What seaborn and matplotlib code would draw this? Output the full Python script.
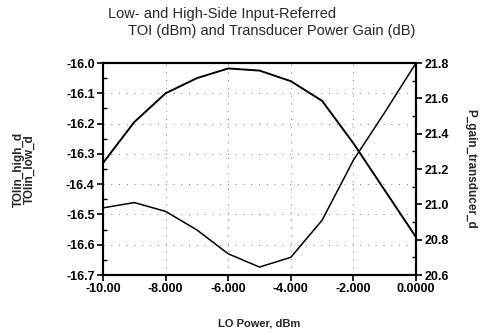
import matplotlib
matplotlib.use("Agg")
import matplotlib.pyplot as plt
import seaborn as sns
import pandas as pd
from matplotlib.ticker import MultipleLocator, FixedLocator

# ---- data ----
lo_power = [-10, -9, -8, -7, -6, -5, -4, -3, -2, -1, 0]
toi_in = [-16.33, -16.195, -16.10, -16.05, -16.018, -16.025, -16.06, -16.125, -16.265, -16.42, -16.575]
p_gain = [20.98, 21.01, 20.96, 20.855, 20.72, 20.645, 20.70, 20.91, 21.25, 21.52, 21.80]

x_ticks = [-10, -8, -6, -4, -2, 0]
x_tick_labels = ["-10.00", "-8.000", "-6.000", "-4.000", "-2.000", "0.0000"]
left_ticks = [-16.0, -16.1, -16.2, -16.3, -16.4, -16.5, -16.6, -16.7]
right_ticks = [21.8, 21.6, 21.4, 21.2, 21.0, 20.8, 20.6]

title_1 = "Low- and High-Side Input-Referred"
title_2 = "TOI (dBm) and Transducer Power Gain (dB)"
x_label = "LO Power, dBm"
left_label = "TOIin_high_d\nTOIin_low_d"
right_label = "P_gain_transducer_d"

sns.set_theme(style="white")
plt.rcParams['font.family'] = ['Liberation Sans', 'DejaVu Sans']

df_toi = pd.DataFrame({"lo": lo_power, "toi": toi_in})
df_gain = pd.DataFrame({"lo": lo_power, "gain": p_gain})

fig = plt.figure(figsize=(4.85, 3.35), dpi=100)
ax = fig.add_axes([103 / 485, 1 - 275 / 335, 313 / 485, 212 / 335])
ax2 = ax.twinx()

sns.lineplot(data=df_toi, x="lo", y="toi", ax=ax, color="black", linewidth=1.4)
sns.lineplot(data=df_gain, x="lo", y="gain", ax=ax2, color="black", linewidth=1.1)

ax.set_xlim(-10, 0)
ax.set_ylim(-16.7, -16.0)
ax2.set_ylim(20.6, 21.8)

ax.xaxis.set_major_locator(FixedLocator(x_ticks))
ax.set_xticklabels(x_tick_labels)
ax.xaxis.set_minor_locator(MultipleLocator(1))
ax.yaxis.set_major_locator(FixedLocator(left_ticks))
ax.set_yticklabels([f"{v:.1f}" for v in left_ticks])
ax.yaxis.set_minor_locator(MultipleLocator(0.05))
ax2.yaxis.set_major_locator(FixedLocator(right_ticks))
ax2.set_yticklabels([f"{v:.1f}" for v in right_ticks])
ax2.yaxis.set_minor_locator(MultipleLocator(0.1))

for a in (ax, ax2):
    a.tick_params(which="major", direction="out", length=4, width=1.2, colors="black",
                  labelsize=9, pad=2)
    a.tick_params(which="minor", direction="in", length=3, width=1.0, colors="black")
    for lab in a.get_xticklabels() + a.get_yticklabels():
        lab.set_fontweight("bold")
    for s in a.spines.values():
        s.set_color("black")
        s.set_linewidth(1.5)
ax.tick_params(axis="x", which="major", bottom=True)
ax.tick_params(axis="y", which="both", left=True)
ax2.tick_params(axis="y", which="both", right=True)

ax.grid(True, which="major", color="0.45", linestyle=(0, (1, 7)), linewidth=0.7)
ax2.grid(False)

ax.set_xlabel(x_label, fontsize=8, fontweight="bold", labelpad=17)
ax.set_ylabel(left_label, fontsize=8.5, fontweight="bold", labelpad=22, linespacing=0.85)
ax2.set_ylabel(right_label, fontsize=8.5, fontweight="bold", rotation=270, labelpad=20)

fig.text(108 / 485, 1 - 14 / 335, title_1, fontsize=10.5, ha="left", va="center")
fig.text(128 / 485, 1 - 31 / 335, title_2, fontsize=10.5, ha="left", va="center")

fig.savefig("out.png", dpi=100)
